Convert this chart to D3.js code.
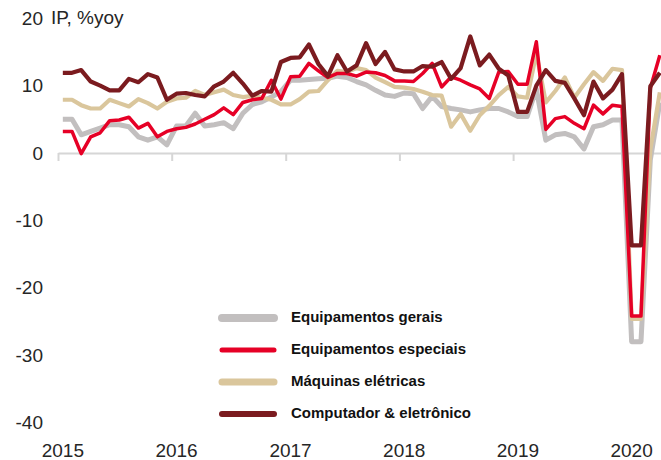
<!DOCTYPE html>
<html>
<head>
<meta charset="utf-8">
<script src="https://cdn.jsdelivr.net/npm/d3@7"></script>
<style>
  body { margin: 0; background: #fff; }
  svg { display: block; }
</style>
</head>
<body>
<div id="container"></div>
<script>

// Monthly %yoy, Jan 2015 .. Apr 2020
const gerais = [
  5.0, 5.0, 2.7, 3.2, 3.7, 4.2, 4.2, 3.9, 2.4, 1.9, 2.4, 1.2,
  4.0, 4.0, 5.9, 4.0, 4.2, 4.5, 3.6, 5.9, 7.2, 7.6, 8.3, 9.1,
  10.8, 10.8, 10.9, 11.0, 11.1, 11.4, 11.2, 10.6, 10.1, 9.3, 8.6, 8.4,
  8.9, 8.8, 6.6, 8.4, 6.9, 6.6, 6.4, 6.1, 6.4, 6.6, 6.6, 6.1,
  5.4, 5.4, 9.5, 1.9, 2.7, 2.9, 2.4, 0.6, 3.9, 4.2, 4.9, 4.9,
  -28.0, -28.0, -1.0, 7.5
];
const especiais = [
  3.2, 3.2, -0.1, 2.4, 3.0, 4.8, 4.9, 5.3, 3.7, 4.4, 2.4, 3.2,
  3.6, 3.8, 4.3, 5.0, 5.7, 6.7, 5.7, 7.5, 7.9, 8.1, 10.8, 8.0,
  11.3, 11.4, 13.3, 12.2, 11.2, 11.8, 11.8, 11.4, 12.0, 11.9, 11.5, 10.7,
  10.7, 10.6, 11.8, 13.3, 9.8, 11.3, 10.8, 10.1, 9.5, 8.1, 12.0, 12.1,
  10.2, 10.2, 16.5, 3.5, 5.1, 5.4, 4.4, 3.6, 7.1, 5.8, 7.1, 6.9,
  -24.2, -24.2, 9.6, 14.5
];
const maquinas = [
  7.9, 7.9, 7.1, 6.6, 6.6, 7.9, 7.4, 6.9, 8.0, 7.4, 6.6, 7.6,
  8.1, 8.2, 9.2, 8.6, 9.0, 9.4, 8.6, 8.3, 8.5, 8.2, 7.9, 7.2,
  7.2, 8.0, 9.1, 9.2, 10.8, 12.2, 12.0, 12.6, 12.3, 11.2, 10.5, 9.8,
  9.7, 9.5, 9.1, 8.6, 8.5, 3.9, 5.8, 3.3, 5.6, 7.0, 8.6, 9.8,
  8.4, 8.2, 14.8, 7.5, 9.2, 11.2, 8.2, 10.2, 12.0, 10.7, 12.5, 12.3,
  -24.6, -24.6, 0.5, 9.0
];
const computador = [
  11.9, 11.9, 12.3, 10.6, 10.0, 9.3, 9.3, 11.0, 10.5, 11.7, 11.2, 7.9,
  8.8, 8.9, 8.6, 8.4, 9.9, 10.6, 11.9, 10.3, 8.5, 9.2, 9.1, 13.5,
  14.1, 14.2, 16.1, 13.2, 11.4, 14.5, 12.1, 13.0, 16.3, 13.2, 15.0, 12.4,
  12.1, 12.1, 12.9, 12.8, 13.5, 11.0, 12.6, 17.3, 13.0, 14.6, 12.5, 11.5,
  6.1, 6.1, 10.0, 12.3, 10.7, 10.4, 8.1, 5.6, 10.6, 8.1, 9.4, 11.7,
  -13.7, -13.7, 9.9, 11.9
];

const seriesNames = ["Equipamentos gerais", "Equipamentos especiais", "Máquinas elétricas", "Computador & eletrônico"];
const yTicks = [-40, -30, -20, -10, 0, 10, 20];
const yearLabels = ["2015", "2016", "2017", "2018", "2019", "2020"];
const yTitle = "IP, %yoy";

const months = d3.timeMonth.range(new Date(2015, 0, 1), new Date(2020, 4, 1));
const years = yearLabels.map(s => new Date(+s, 0, 1));

const width = 661;
const height = 460;

const svg = d3.select("#container").append("svg")
    .attr("width", width)
    .attr("height", height);

const x = d3.scaleTime()
    .domain([new Date(2015, 0, 1), new Date(2020, 4, 1)])
    .range([58, 664.5]);
const mid = d => (x(d) + x(d3.timeMonth.offset(d, 1))) / 2;

const y = d3.scaleLinear()
    .domain([-40, 20])
    .range([422.6, 18.2]);

// zero line with year ticks
const xAxis = svg.append("g")
    .attr("transform", `translate(0,${y(0)})`)
    .call(d3.axisBottom(x).tickValues(years).tickSize(8).tickSizeOuter(0).tickFormat(""));
xAxis.select(".domain").attr("stroke", "#d6d6d6").attr("stroke-width", 2);
xAxis.selectAll(".tick line").attr("stroke", "#d6d6d6").attr("stroke-width", 2);

// year labels
svg.append("g").selectAll("text")
  .data(years)
  .join("text")
    .attr("x", d => mid(d))
    .attr("y", 450)
    .attr("dy", "0.35em")
    .attr("text-anchor", "middle")
    .attr("font-family", "Liberation Sans, Arial, sans-serif")
    .attr("font-size", 19)
    .attr("fill", "#262626")
    .text((d, i) => yearLabels[i]);

// y labels (plain hyphen, like the original)
const yAxis = svg.append("g")
    .attr("transform", "translate(43,0)")
    .call(d3.axisLeft(y).tickValues(yTicks).tickSize(0).tickPadding(0).tickFormat(d => String(d)));
yAxis.select(".domain").remove();
yAxis.selectAll("text")
    .attr("font-family", "Liberation Sans, Arial, sans-serif")
    .attr("font-size", 19)
    .attr("fill", "#262626");

svg.append("text")
    .attr("x", 51)
    .attr("y", y(20))
    .attr("dy", "0.32em")
    .attr("font-family", "Liberation Sans, Arial, sans-serif")
    .attr("font-size", 19)
    .attr("fill", "#262626")
    .text(yTitle);

// lines
const line = d3.line()
    .x((d, i) => mid(months[i]))
    .y(d => y(d));

const series = [
  { name: seriesNames[0], values: gerais, color: "#c2bfbf", w: 5, lw: 8 },
  { name: seriesNames[1], values: especiais, color: "#e60026", w: 3.5, lw: 5 },
  { name: seriesNames[2], values: maquinas, color: "#dac69c", w: 4.2, lw: 7 },
  { name: seriesNames[3], values: computador, color: "#7b1b1f", w: 4.2, lw: 6 }
];
const drawOrder = [0, 2, 1, 3];

svg.append("g").selectAll("path")
  .data(drawOrder.map(k => series[k]))
  .join("path")
    .attr("d", d => line(d.values))
    .attr("fill", "none")
    .attr("stroke", d => d.color)
    .attr("stroke-width", d => d.w)
    .attr("stroke-linejoin", "round");

// legend
const legend = svg.append("g").selectAll("g")
  .data(series)
  .join("g")
    .attr("transform", (d, i) => `translate(0,${318 + i * 32})`);

legend.append("line")
    .attr("x1", 222)
    .attr("x2", 274)
    .attr("stroke", d => d.color)
    .attr("stroke-width", d => d.lw)
    .attr("stroke-linecap", "round");

legend.append("text")
    .attr("x", 291)
    .attr("y", -1)
    .attr("dy", "0.35em")
    .attr("font-family", "Liberation Sans, Arial, sans-serif")
    .attr("font-weight", "bold")
    .attr("font-size", 15)
    .attr("fill", "#111")
    .text(d => d.name);

</script>
</body>
</html>
